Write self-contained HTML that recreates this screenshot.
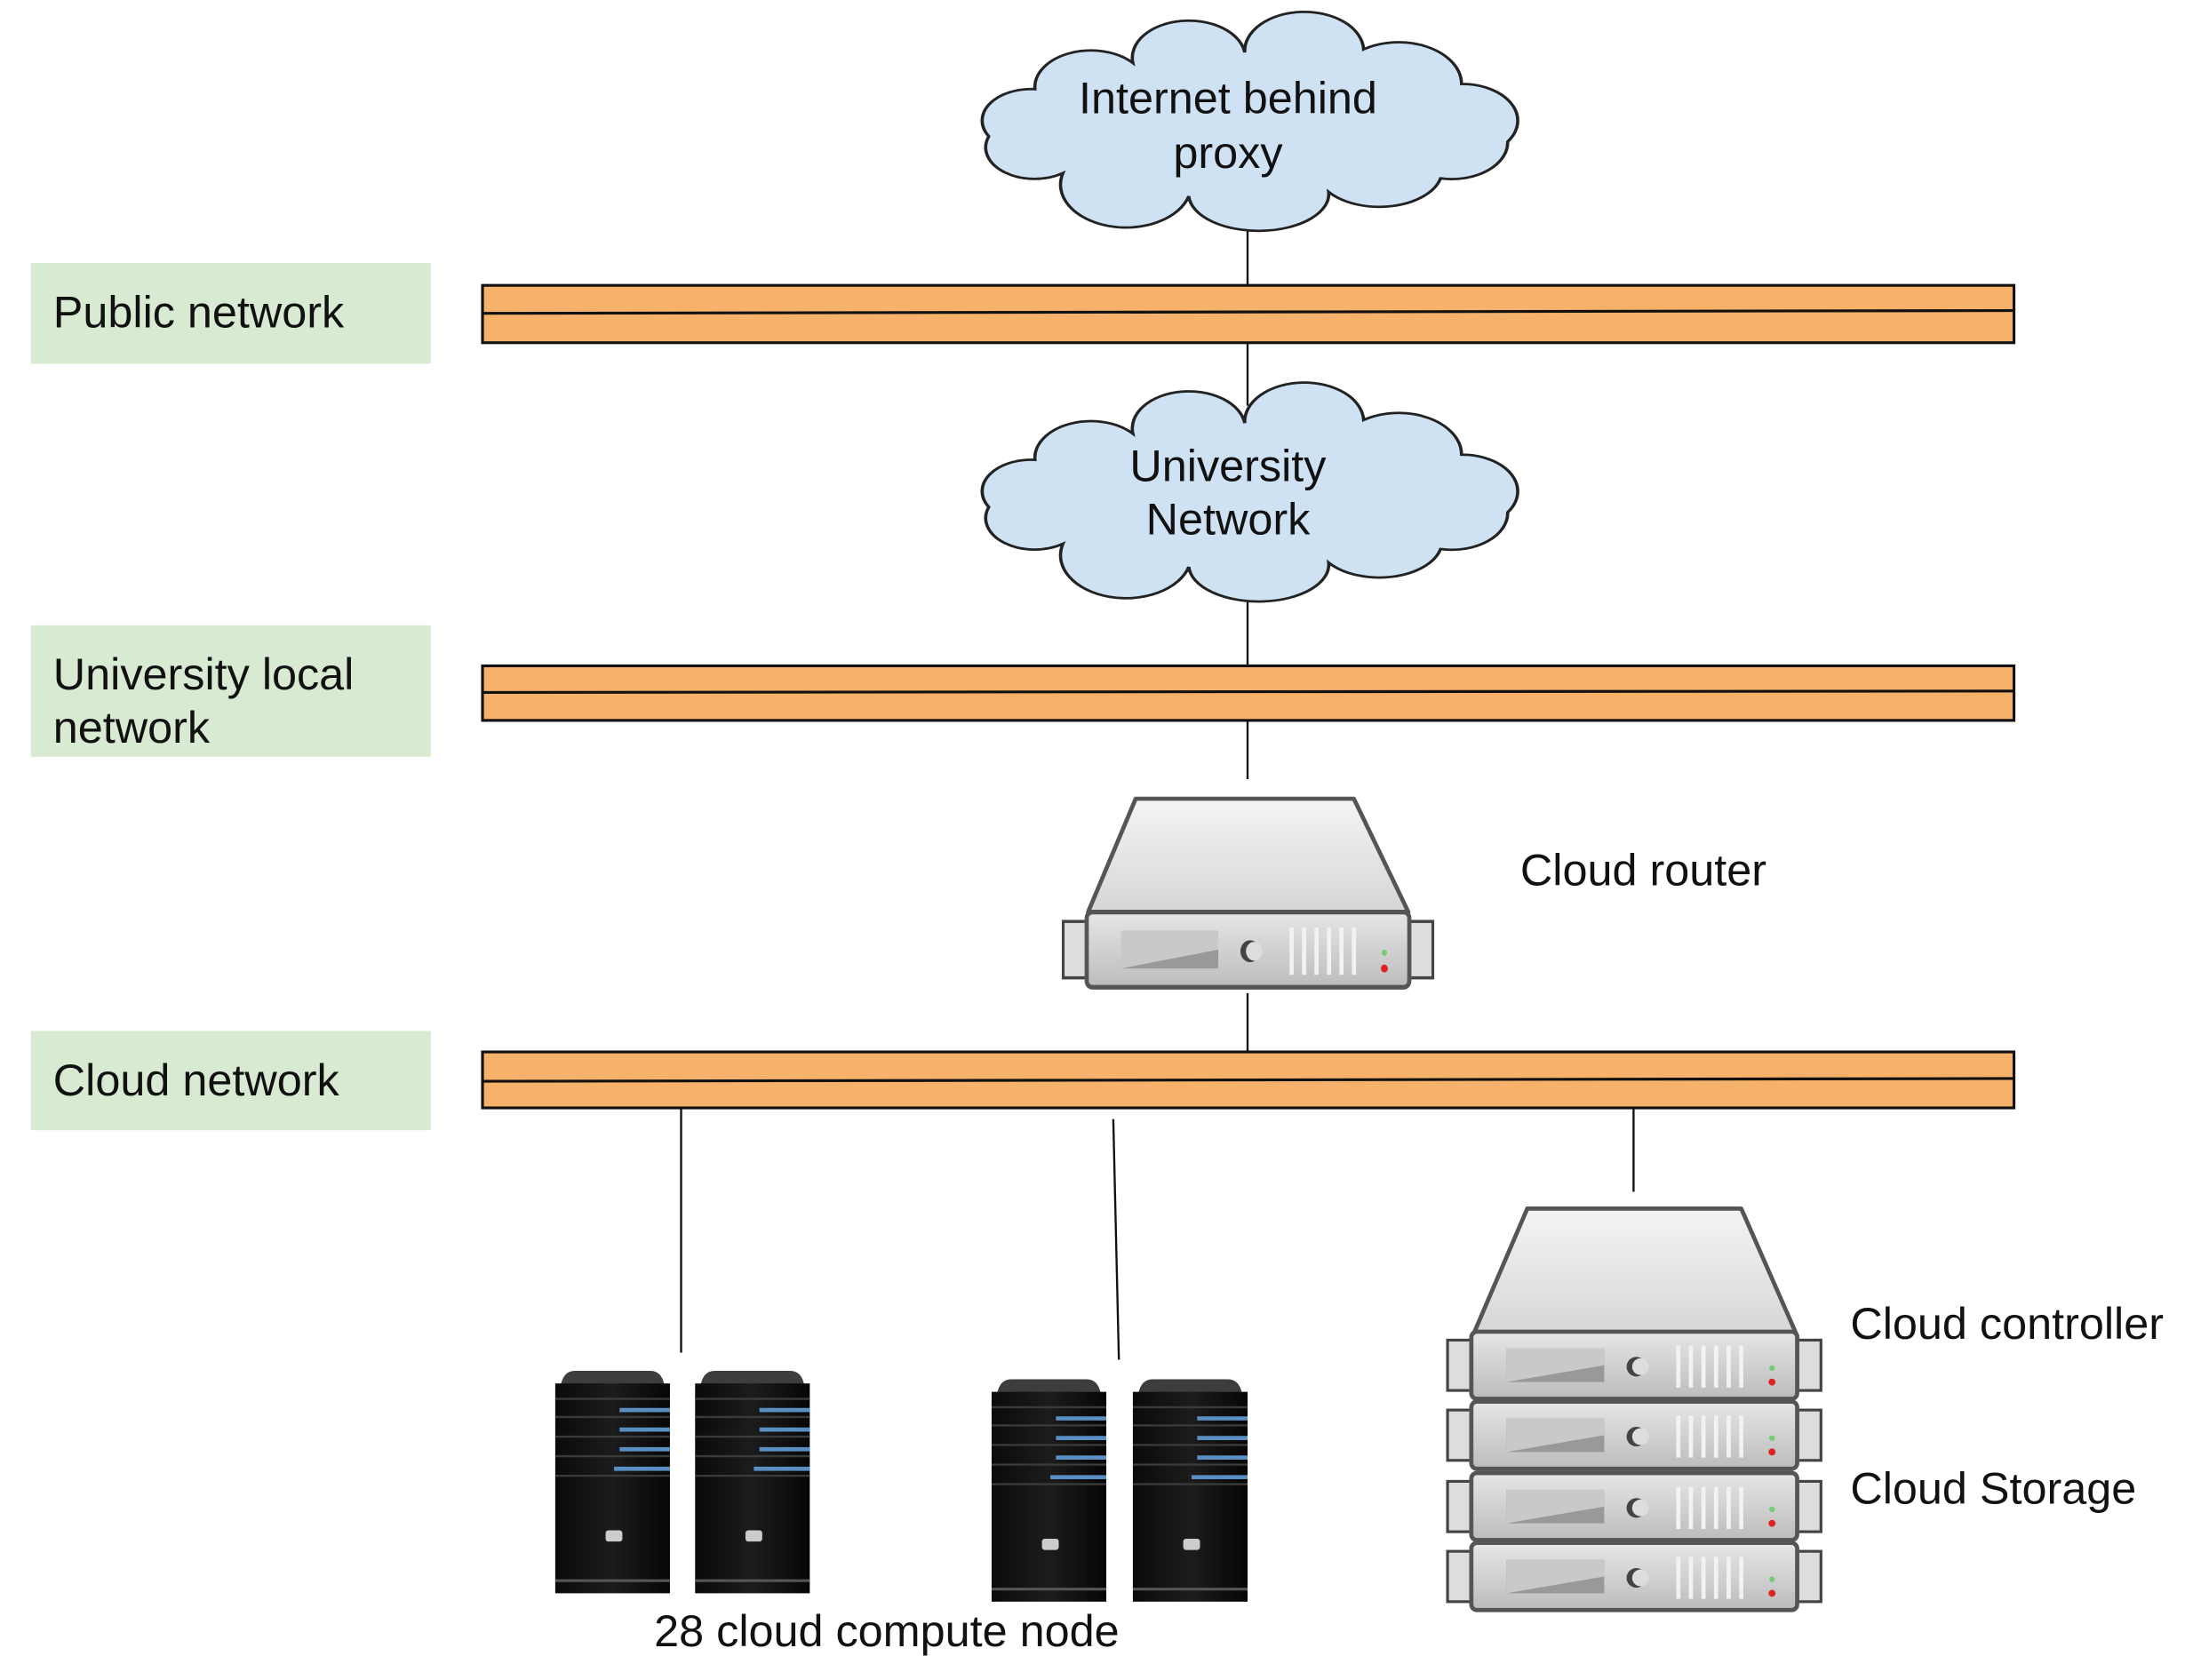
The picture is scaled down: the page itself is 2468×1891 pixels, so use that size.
<!DOCTYPE html>
<html><head><meta charset="utf-8"><style>html,body{margin:0;padding:0;background:#fff}svg{display:block}</style></head>
<body>
<svg width="2468" height="1891" viewBox="0 0 1568 1201" preserveAspectRatio="none" xmlns="http://www.w3.org/2000/svg" font-family="Liberation Sans, Arial, sans-serif">
<defs>
<linearGradient id="topg" x1="0" y1="0" x2="0" y2="1"><stop offset="0" stop-color="#f4f4f4"/><stop offset="1" stop-color="#d6d6d6"/></linearGradient>
<linearGradient id="frg" x1="0" y1="0" x2="0" y2="1"><stop offset="0" stop-color="#e6e6e6"/><stop offset="1" stop-color="#bcbcbc"/></linearGradient>
<linearGradient id="twg" x1="0" y1="0" x2="1" y2="0"><stop offset="0" stop-color="#0a0a0a"/><stop offset="0.5" stop-color="#1c1c1c"/><stop offset="1" stop-color="#060606"/></linearGradient>
<g id="unit">
<rect x="-17" y="6" width="18" height="36" fill="#ddd" stroke="#444" stroke-width="2"/>
<rect x="232" y="6" width="18" height="36" fill="#ddd" stroke="#444" stroke-width="2"/>
<rect x="0" y="0" width="233" height="48" rx="4" fill="url(#frg)" stroke="#555" stroke-width="3"/>
<path d="M25,12 L95,12 L95,36 L25,36 Z" fill="#999"/>
<path d="M25,12 L95,12 L95,24 Q60,30 25,36 Z" fill="#c9c9c9"/>
<circle cx="118" cy="25" r="7" fill="#444"/><circle cx="121" cy="25" r="6" fill="#ddd"/>
<g stroke="#f2f2f2" stroke-width="3"><line x1="148" y1="10" x2="148" y2="40"/><line x1="157" y1="10" x2="157" y2="40"/><line x1="166" y1="10" x2="166" y2="40"/><line x1="175" y1="10" x2="175" y2="40"/><line x1="184" y1="10" x2="184" y2="40"/><line x1="193" y1="10" x2="193" y2="40"/></g>
<circle cx="215" cy="36" r="2.5" fill="#d22"/><circle cx="215" cy="26" r="2" fill="#7c7"/>
</g>
<g id="tower">
<path d="M4,10 Q6,0 14,0 L68,0 Q76,0 78,10 Z" fill="#3d3d3d"/>
<rect x="0" y="9" width="82" height="150" fill="url(#twg)"/>
<g stroke="#3a3a3a" stroke-width="1.5"><line x1="0" y1="20" x2="82" y2="20"/><line x1="0" y1="33" x2="82" y2="33"/><line x1="0" y1="47" x2="82" y2="47"/><line x1="0" y1="61" x2="82" y2="61"/><line x1="0" y1="75" x2="82" y2="75"/></g>
<g stroke="#5a8fc4" stroke-width="3"><line x1="46" y1="28" x2="82" y2="28"/><line x1="46" y1="42" x2="82" y2="42"/><line x1="46" y1="56" x2="82" y2="56"/><line x1="42" y1="70" x2="82" y2="70"/></g>
<rect x="36" y="114" width="12" height="8" rx="2" fill="#ccc"/>
<line x1="0" y1="150" x2="82" y2="150" stroke="#555" stroke-width="2"/>
</g>
<path id="cloud" transform="translate(0,18.75) scale(1,0.75)" d="M740,60 A40,35 0 0 1 810,35 A40,35 0 0 1 890,25 A40,35 0 0 1 975,22 A45,40 0 0 1 1045,55 A40,35 0 0 1 1078,110 A40,35 0 0 1 1030,145 A45,35 0 0 1 950,158 A50,35 0 0 1 850,162 A40,35 0 0 1 760,140 A35,30 0 0 1 707,105 A35,30 0 0 1 740,60 Z" fill="#cfe2f3" stroke="#222" stroke-width="2.3"/>
</defs>
<rect width="1568" height="1201" fill="#fff"/>
<g stroke="#111" stroke-width="1.5">
<line x1="892" y1="160" x2="892" y2="205"/>
<line x1="892" y1="245" x2="892" y2="290"/>
<line x1="892" y1="425" x2="892" y2="476"/>
<line x1="892" y1="515" x2="892" y2="557"/>
<line x1="892" y1="710" x2="892" y2="752"/>
<line x1="487" y1="792" x2="487" y2="967"/>
<line x1="796" y1="800" x2="800" y2="972"/>
<line x1="1168" y1="792" x2="1168" y2="852"/>
</g>
<use href="#cloud"/>
<use href="#cloud" transform="translate(0,265)"/>
<g font-size="32" fill="#111" text-anchor="middle">
<text x="878" y="81">Internet behind</text><text x="878" y="120">proxy</text>
<text x="878" y="344">University</text><text x="878" y="382">Network</text>
</g>
<g fill="#d9ead3"><rect x="22" y="188" width="286" height="72"/><rect x="22" y="447" width="286" height="94"/><rect x="22" y="737" width="286" height="71"/></g>
<g font-size="32" fill="#111">
<text x="38" y="234">Public network</text>
<text x="38" y="493">University local</text><text x="38" y="531">network</text>
<text x="38" y="783">Cloud network</text>
<text x="1087" y="633">Cloud router</text>
<text x="1323" y="957">Cloud controller</text>
<text x="1323" y="1075">Cloud Storage</text>
<text x="634" y="1177" text-anchor="middle">28 cloud compute node</text>
</g>
<g fill="#f6b26b" stroke="#111" stroke-width="2">
<rect x="345" y="204" width="1095" height="41"/><rect x="345" y="476" width="1095" height="39"/><rect x="345" y="752" width="1095" height="40"/>
</g>
<g stroke="#111" stroke-width="2"><line x1="345" y1="224" x2="1440" y2="222"/><line x1="345" y1="495" x2="1440" y2="494"/><line x1="345" y1="773" x2="1440" y2="771"/></g>
<path d="M812,571 L968,571 L1007,652 L778,652 Z" fill="url(#topg)" stroke="#555" stroke-width="3" stroke-linejoin="round"/>
<g transform="translate(777,652) scale(0.99,1.12)"><use href="#unit"/></g>
<path d="M1092,864 L1245,864 L1285,955 L1053,955 Z" fill="url(#topg)" stroke="#555" stroke-width="3" stroke-linejoin="round"/>
<use href="#unit" x="1052" y="952"/>
<use href="#unit" x="1052" y="1002"/>
<use href="#unit" x="1052" y="1053"/>
<use href="#unit" x="1052" y="1103"/>
<use href="#tower" x="397" y="980"/>
<use href="#tower" x="497" y="980"/>
<use href="#tower" x="709" y="986"/>
<use href="#tower" x="810" y="986"/>
</svg>
</body></html>
